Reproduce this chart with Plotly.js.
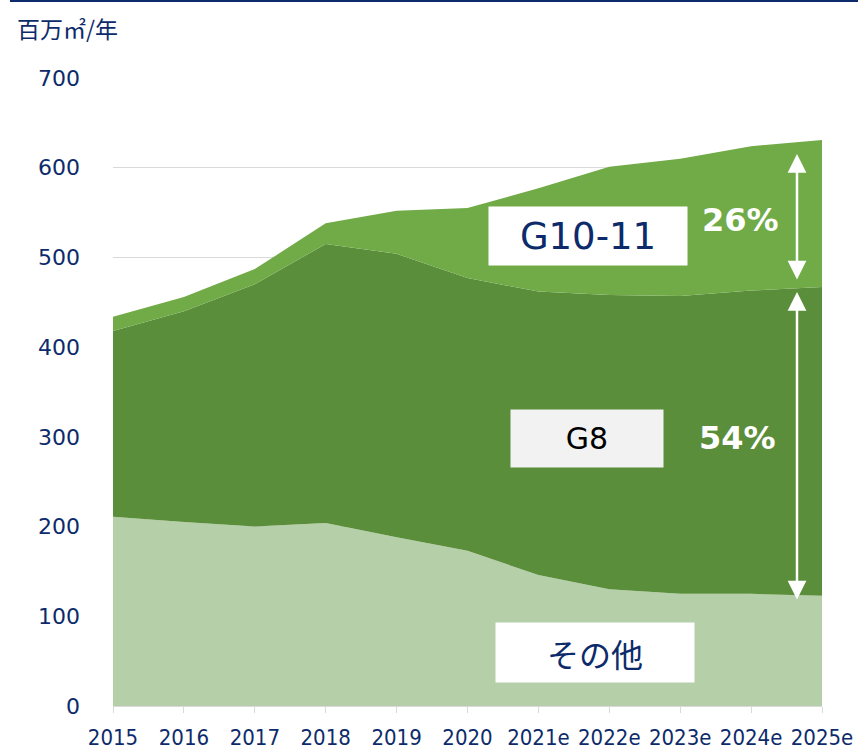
<!DOCTYPE html>
<html><head><meta charset="utf-8">
<script src="https://cdn.plot.ly/plotly-3.0.1.min.js"></script>
<style>body{margin:0;padding:0;background:#fff}#chart{width:858px;height:751px}</style>
</head><body><div id="chart"></div>
<script>
const years = ['2015','2016','2017','2018','2019','2020','2021e','2022e','2023e','2024e','2025e'];
const other = [211, 205, 200, 204, 188, 173, 146, 130, 125, 125, 123];
const g8    = [207, 235, 270, 311, 316, 304, 316, 328, 332, 338, 344];
const g1011 = [16, 16, 17, 23, 48, 78, 115, 143, 153, 161, 164];
const yTicks = [0,100,200,300,400,500,600,700];

const navy = '#0d2b6b';
const mk = (name, y, color) => ({
  type:'scatter', mode:'lines', name, x: years, y, stackgroup:'one',
  line:{width:0, color}, fillcolor: color, hoverinfo:'skip'
});
const data = [
  mk('その他', other, '#b5cfa9'),
  mk('G8', g8, '#5b8e3a'),
  mk('G10-11', g1011, '#71ab48')
];
const px2x = p => (p-113)/709;
const py2y = p => (706-p)/628;
const layout = {
  width:858, height:751, showlegend:false,
  margin:{l:113, r:36, t:78, b:45},
  paper_bgcolor:'#fff', plot_bgcolor:'#fff',
  xaxis:{type:'category', range:[0,10], showgrid:false, zeroline:false,
    showline:true, linecolor:'#d9d9d9', linewidth:1,
    ticks:'outside', ticklen:6, tickcolor:'#d9d9d9', tickwidth:1,
    ticklabelstandoff:6,
    tickfont:{family:'DejaVu Sans Condensed, sans-serif', size:22, color:navy}},
  yaxis:{range:[0,700], tickvals:yTicks, ticktext:yTicks.map(String), showgrid:true, gridcolor:'#d9d9d9', gridwidth:1,
    zeroline:false, showline:false, ticks:'', ticklabelstandoff:32,
    tickfont:{family:'DejaVu Sans, Verdana, sans-serif', size:22, color:navy}},
  shapes:[
    {type:'line', xref:'paper', yref:'paper', x0:px2x(10), x1:px2x(858), y0:py2y(1), y1:py2y(1), line:{color:'#0d2b6b', width:2}}
  ],
  annotations:[
    {xref:'paper', yref:'paper', x:px2x(15), y:py2y(28), xanchor:'left', yanchor:'middle', showarrow:false,
     text:'百万㎡/年', font:{family:'Noto Sans CJK JP, sans-serif', size:23, color:navy}},
    {xref:'paper', yref:'paper', x:px2x(588), y:py2y(236), xanchor:'center', yanchor:'middle', showarrow:false,
     text:'G10-11', bgcolor:'#ffffff', width:196, height:56, font:{family:'DejaVu Sans, Verdana, sans-serif', size:37, color:navy}},
    {xref:'paper', yref:'paper', x:px2x(587), y:py2y(438), xanchor:'center', yanchor:'middle', showarrow:false,
     text:'G8', bgcolor:'#f2f2f2', width:150, height:55, font:{family:'DejaVu Sans, Verdana, sans-serif', size:30, color:'#000000'}},
    {xref:'paper', yref:'paper', x:px2x(595), y:py2y(652), xanchor:'center', yanchor:'middle', showarrow:false,
     text:'その他', bgcolor:'#ffffff', width:196, height:57, font:{family:'Noto Sans CJK JP, sans-serif', size:32, color:navy}},
    {xref:'paper', yref:'paper', x:px2x(740), y:py2y(220), xanchor:'center', yanchor:'middle', showarrow:false,
     text:'<b>26%</b>', font:{family:'DejaVu Sans, Verdana, sans-serif', size:32, color:'#ffffff'}},
    {xref:'paper', yref:'paper', x:px2x(737), y:py2y(438), xanchor:'center', yanchor:'middle', showarrow:false,
     text:'<b>54%</b>', font:{family:'DejaVu Sans, Verdana, sans-serif', size:32, color:'#ffffff'}},
    {xref:'paper', yref:'paper', axref:'paper', ayref:'paper',
     x:px2x(797), y:py2y(154), ax:px2x(797), ay:py2y(281), showarrow:true, text:'',
     arrowside:'end+start', arrowhead:2, arrowsize:1.5, arrowwidth:2.5, arrowcolor:'#ffffff', standoff:0, startstandoff:0},
    {xref:'paper', yref:'paper', axref:'paper', ayref:'paper',
     x:px2x(797), y:py2y(292), ax:px2x(797), ay:py2y(601), showarrow:true, text:'',
     arrowside:'end+start', arrowhead:2, arrowsize:1.5, arrowwidth:2.5, arrowcolor:'#ffffff', standoff:0, startstandoff:0}
  ]
};
Plotly.newPlot('chart', data, layout, {displayModeBar:false, staticPlot:true});
</script></body></html>
